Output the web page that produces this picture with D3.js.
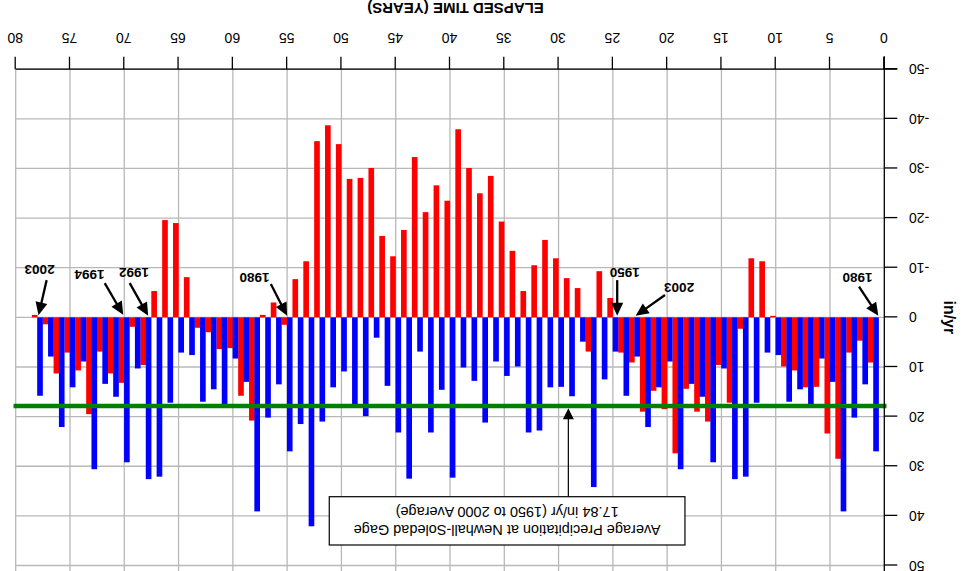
<!DOCTYPE html>
<html>
<head>
<meta charset="utf-8">
<script src="https://cdn.jsdelivr.net/npm/d3@7"></script>
<style>
body { margin: 0; background: #fff; }
svg { display: block; font-family: "Liberation Sans", Arial, sans-serif; }
</style>
</head>
<body>
<svg id="chart" width="964" height="571"></svg>
<script>
// annual precipitation, in/yr -- 1980..2003 then 1950..2003
const precip = [
  27.0, 13.5, 20.2, 39.1, 13.0, 8.3, 18.0, 14.5, 17.0, 7.6, 7.1, 17.2,
  32.1, 32.6, 10.3, 29.2, 16.0, 13.4, 30.6, 8.9, 14.1, 22.1, 7.9, 15.8,
  6.9, 12.5, 34.2, 4.9, 15.9, 14.0, 14.1, 22.8, 23.2, 9.9, 11.8, 8.9,
  21.2, 12.8, 10.1, 32.3, 14.6, 23.2, 6.9, 32.5, 23.2, 13.8, 4.1, 19.9,
  18.0, 10.9, 14.1, 21.0, 42.1, 21.5,
  27.0, 13.5, 20.2, 39.1, 13.0, 8.3, 18.0, 14.5, 17.0, 7.6, 7.1, 17.2,
  32.1, 32.6, 10.3, 29.2, 16.0, 13.4, 30.6, 8.9, 14.1, 22.1, 7.9, 15.8
];
// cumulative departure from average, in
const cumDeparture = [
  9.1, 4.7, 7.1, 28.5, 23.4, 14.0, 14.1, 10.7, 9.9, -0.3, -11.3, -11.9,
  2.3, 17.2, 9.6, 21.0, 19.0, 14.4, 27.4, 18.5, 14.8, 19.0, 9.1, 7.1,
  -3.9, -9.3, 6.9, -5.9, -7.9, -11.9, -15.6, -10.5, -5.3, -13.4, -19.3, -28.5,
  -25.0, -30.1, -37.9, -23.5, -26.6, -21.2, -32.3, -17.6, -12.3, -16.4, -30.1, -28.1,
  -27.9, -34.9, -38.7, -35.5, -11.3, -7.7,
  1.5, -3.0, -0.5, 20.8, 15.8, 6.2, 6.4, 3.0, 2.1, -8.1, -19.0, -19.6,
  -5.3, 9.6, 1.9, 13.2, 11.3, 6.9, 19.5, 10.7, 7.1, 11.3, 1.4, -0.5
];
const xTicks = [0, 5, 10, 15, 20, 25, 30, 35, 40, 45, 50, 55, 60, 65, 70, 75, 80];
const yTicks = [-50, -40, -30, -20, -10, 0, 10, 20, 30, 40, 50];
const avgPrecip = 17.84;
const noteLines = ["Average Precipitation at Newhall-Soledad Gage", "17.84 in/yr (1950 to 2000 Average)"];
const yearLabels = ["1980", "2003", "1950", "1980", "1992", "1994", "2003"];

// where each year label and its arrow sit (elapsed years, in/yr)
var yearNotes = [
  {tx: 2.47, ty: -8.9, x0: 2.33, y0: -6.2, x1: 0.55, y1: -0.3},
  {tx: 18.9, ty: -6.9, x0: 20.2, y0: -4.5, x1: 22.9, y1: -0.3},
  {tx: 23.9, ty: -9.9, x0: 24.6, y0: -7.5, x1: 24.6, y1: -0.3},
  {tx: 58.0, ty: -8.9, x0: 56.5, y0: -6.7, x1: 55.0, y1: -0.3},
  {tx: 69.1, ty: -9.9, x0: 69.5, y0: -6.9, x1: 67.8, y1: -0.3},
  {tx: 73.2, ty: -9.5, x0: 71.8, y0: -6.9, x1: 70.1, y1: -0.5},
  {tx: 77.8, ty: -10.5, x0: 77.15, y0: -7.5, x1: 77.9, y1: -0.4}
];

var W = 964, H = 571;
var svg = d3.select("#chart");
// the whole picture is upside down, so draw it normally and turn it round
var chart = svg.append("g")
    .attr("transform", "rotate(180," + W / 2 + "," + H / 2 + ")");

var x = d3.scaleLinear().domain([0, 80]).range([79.7, 948.3]);
var y = d3.scaleLinear().domain([-50, 50]).range([501.8, 5.5]);

// grid
chart.append("g").selectAll("line")
    .data(xTicks.filter(function(d) { return d > 0; }))
  .enter().append("line")
    .attr("x1", function(d) { return x(d); })
    .attr("x2", function(d) { return x(d); })
    .attr("y1", y(-50))
    .attr("y2", 0)
    .attr("stroke", "#b8b8b8")
    .attr("stroke-width", 1.3);

chart.append("g").selectAll("line")
    .data(yTicks)
  .enter().append("line")
    .attr("x1", x(0))
    .attr("x2", x(80))
    .attr("y1", function(d) { return y(d); })
    .attr("y2", function(d) { return y(d); })
    .attr("stroke", "#b8b8b8")
    .attr("stroke-width", 1.3);

// bars
var bw = x(0.52) - x(0);
function barY(d) { return y(Math.max(0, d)); }
function barH(d) { return Math.abs(y(d) - y(0)); }

chart.append("g").selectAll("rect")
    .data(cumDeparture)
  .enter().append("rect")
    .attr("x", function(d, i) { return x(i + 1.25) - bw / 2; })
    .attr("y", barY)
    .attr("width", bw)
    .attr("height", barH)
    .attr("fill", "#ff0000");

chart.append("g").selectAll("rect")
    .data(precip)
  .enter().append("rect")
    .attr("x", function(d, i) { return x(i + 0.76) - bw / 2; })
    .attr("y", barY)
    .attr("width", bw)
    .attr("height", barH)
    .attr("fill", "#0000ff");

// average line
chart.append("line")
    .attr("x1", x(-0.2))
    .attr("x2", x(80.2))
    .attr("y1", y(avgPrecip))
    .attr("y2", y(avgPrecip))
    .attr("stroke", "#008000")
    .attr("stroke-width", 4.5);

// axes
var yAxis = d3.axisLeft(y)
    .tickValues(yTicks)
    .tickSize(13)
    .tickSizeOuter(0)
    .tickPadding(11.7)
    .tickFormat(function(d) { return String(d); });

var xAxis = d3.axisBottom(x)
    .tickValues(xTicks)
    .tickSize(12.5)
    .tickSizeOuter(0)
    .tickPadding(14)
    .tickFormat(function(d) { return String(d); });

var gy = chart.append("g")
    .attr("transform", "translate(" + x(0) + ",0)")
    .call(yAxis);
var gx = chart.append("g")
    .attr("transform", "translate(0," + y(-50) + ")")
    .call(xAxis);

[gx, gy].forEach(function(g) {
  g.select(".domain").remove();
  g.attr("font-family", null).attr("font-size", 14);
  g.selectAll(".tick line").attr("stroke", "#000").attr("stroke-width", 1.3);
  g.selectAll(".tick text").attr("fill", "#000");
});

chart.append("line")
    .attr("x1", x(0)).attr("x2", x(0))
    .attr("y1", 0).attr("y2", y(-50) + 13)
    .attr("stroke", "#000").attr("stroke-width", 1.3);
chart.append("line")
    .attr("x1", x(0) - 13).attr("x2", x(80))
    .attr("y1", y(-50)).attr("y2", y(-50))
    .attr("stroke", "#000").attr("stroke-width", 1.3);

chart.append("text")
    .attr("x", 508.5)
    .attr("y", 568)
    .attr("text-anchor", "middle")
    .attr("font-size", 15)
    .attr("font-weight", "bold")
    .text("ELAPSED TIME (YEARS)");

chart.append("text")
    .attr("transform", "translate(20," + y(0) + ") rotate(-90)")
    .attr("text-anchor", "middle")
    .attr("font-size", 16)
    .attr("font-weight", "bold")
    .text("in/yr");

// arrows
function arrow(g, x0, y0, x1, y1, width, headLen, headW) {
  var dx = x1 - x0, dy = y1 - y0, len = Math.sqrt(dx * dx + dy * dy);
  var ux = dx / len, uy = dy / len;
  var bx = x1 - ux * headLen, by = y1 - uy * headLen;
  g.append("line")
      .attr("x1", x0).attr("y1", y0).attr("x2", bx + ux).attr("y2", by + uy)
      .attr("stroke", "#000").attr("stroke-width", width);
  g.append("path")
      .attr("d", "M" + x1 + "," + y1 +
                 "L" + (bx - uy * headW / 2) + "," + (by + ux * headW / 2) +
                 "L" + (bx + uy * headW / 2) + "," + (by - ux * headW / 2) + "Z")
      .attr("fill", "#000");
}

var notes = chart.append("g");
yearNotes.forEach(function(n, i) {
  notes.append("text")
      .attr("x", x(n.tx))
      .attr("y", y(n.ty))
      .attr("text-anchor", "middle")
      .attr("font-size", 13.5)
      .attr("font-weight", "bold")
      .text(yearLabels[i]);
  arrow(notes, x(n.x0), y(n.y0), x(n.x1), y(n.y1), 2.3, 13, 12);
});

// average callout
var box = {x0: 18.36, x1: 51.12, top: 45.87, bottom: 36.14, arrowX: 29.1};
arrow(notes, x(box.arrowX), y(box.bottom), x(box.arrowX), y(avgPrecip) - 2.3, 1.2, 11, 11);
notes.append("rect")
    .attr("x", x(box.x0))
    .attr("y", y(box.top))
    .attr("width", x(box.x1) - x(box.x0))
    .attr("height", y(box.bottom) - y(box.top))
    .attr("fill", "#fff")
    .attr("stroke", "#000")
    .attr("stroke-width", 1.2);
notes.selectAll("text.avg")
    .data(noteLines)
  .enter().append("text")
    .attr("class", "avg")
    .attr("x", x((box.x0 + box.x1) / 2))
    .attr("y", function(d, i) { return y(i === 0 ? 41.84 : 38.16); })
    .attr("text-anchor", "middle")
    .attr("font-size", 14.5)
    .text(function(d) { return d; });
</script>
</body>
</html>
